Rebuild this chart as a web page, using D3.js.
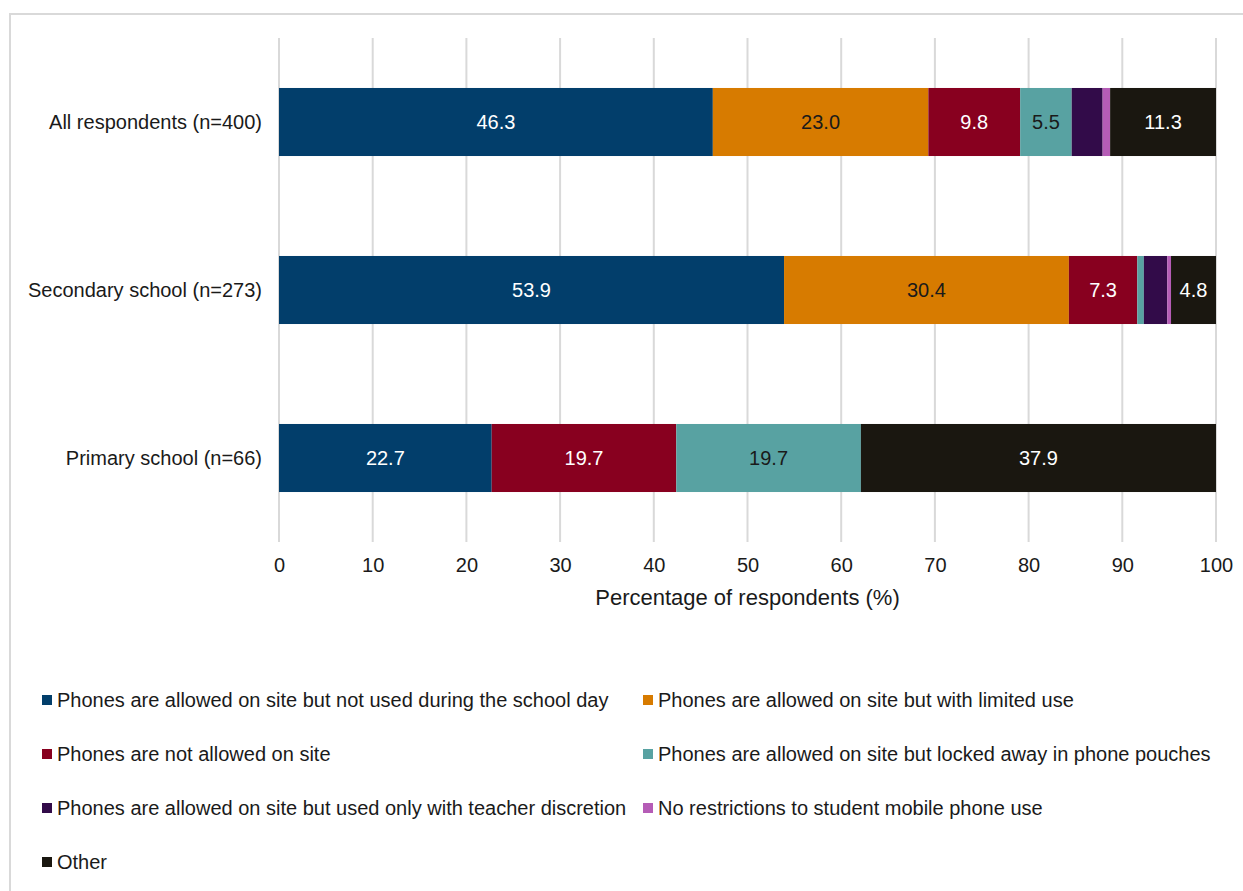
<!DOCTYPE html>
<html>
<head>
<meta charset="utf-8">
<script src="https://cdn.jsdelivr.net/npm/d3@7"></script>
<style>
  html, body { margin: 0; padding: 0; background: #fff; }
  svg { display: block; font-family: "Liberation Sans", Arial, sans-serif; }
</style>
</head>
<body>
<svg id="chart" width="1243" height="891"></svg>
<script>
// Respondent groups (top to bottom)
const categories = ["All respondents (n=400)", "Secondary school (n=273)", "Primary school (n=66)"];

// Policy types, in stacking order
const seriesNames = [
  "Phones are allowed on site but not used during the school day",
  "Phones are allowed on site but with limited use",
  "Phones are not allowed on site",
  "Phones are allowed on site but locked away in phone pouches",
  "Phones are allowed on site but used only with teacher discretion",
  "No restrictions to student mobile phone use",
  "Other"
];

// Percentages per series, one value per group
const notUsedDuringDay = [46.3, 53.9, 22.7];
const limitedUse       = [23.0, 30.4, 0];
const notAllowed       = [9.8, 7.3, 19.7];
const phonePouches     = [5.5, 0.7, 19.7];
const teacherDiscretion= [3.3, 2.5, 0];
const noRestrictions   = [0.8, 0.4, 0];
const other            = [11.3, 4.8, 37.9];

// Segments whose values are printed on the bar
const labelledValues = [
  [46.3, 23.0, 9.8, 5.5, null, null, 11.3],
  [53.9, 30.4, 7.3, null, null, null, 4.8],
  [22.7, null, 19.7, 19.7, null, null, 37.9]
];

const xTicks = [0, 10, 20, 30, 40, 50, 60, 70, 80, 90, 100];

const seriesValues = [notUsedDuringDay, limitedUse, notAllowed, phonePouches,
                      teacherDiscretion, noRestrictions, other];
const colors = ["#023e6b", "#d77b00", "#88001f", "#58a2a2", "#320b49", "#b55cb6", "#1a1710"];
const labelColors = ["#ffffff", "#1a1a1a", "#ffffff", "#1a1a1a", "#ffffff", "#ffffff", "#ffffff"];
const textColor = "#1a1a1a";

const rows = categories.map((c, i) => {
  const r = { category: c };
  seriesNames.forEach((s, j) => { r[s] = seriesValues[j][i]; });
  return r;
});

const svg = d3.select("#chart");

// Outer frame
svg.append("path")
  .attr("d", "M10,905 L10,14 L1250,14")
  .attr("fill", "none")
  .attr("stroke", "#d9d9d9")
  .attr("stroke-width", 2);

const plot = { left: 279, right: 1216, top: 38, bottom: 542 };

const x = d3.scaleLinear().domain([0, 100]).range([plot.left, plot.right]);
const y = d3.scaleBand().domain(categories).range([plot.top, plot.bottom]).paddingInner(0.595).paddingOuter(0.2975);

// Vertical gridlines
svg.append("g")
  .selectAll("line")
  .data(xTicks)
  .join("line")
  .attr("x1", d => x(d)).attr("x2", d => x(d))
  .attr("y1", plot.top).attr("y2", plot.bottom)
  .attr("stroke", "#d9d9d9")
  .attr("stroke-width", 2);

// Stacked bars
const stack = d3.stack().keys(seriesNames)(rows);

const layers = svg.append("g")
  .selectAll("g")
  .data(stack)
  .join("g")
  .attr("fill", (d, i) => colors[i]);

layers.selectAll("rect")
  .data(d => d)
  .join("rect")
  .attr("x", d => x(d[0]))
  .attr("y", d => y(d.data.category))
  .attr("width", d => Math.max(0, x(d[1]) - x(d[0])))
  .attr("height", y.bandwidth());

// Value labels
stack.forEach((layer, j) => {
  layer.forEach((d, i) => {
    const v = labelledValues[i][j];
    if (v === null) return;
    svg.append("text")
      .attr("x", (x(d[0]) + x(d[1])) / 2)
      .attr("y", y(d.data.category) + y.bandwidth() / 2)
      .attr("dy", "0.36em")
      .attr("text-anchor", "middle")
      .attr("font-size", 20)
      .attr("fill", labelColors[j])
      .text(v.toFixed(1));
  });
});

// Category labels
svg.append("g")
  .selectAll("text")
  .data(categories)
  .join("text")
  .attr("x", plot.left - 17)
  .attr("y", d => y(d) + y.bandwidth() / 2)
  .attr("dy", "0.36em")
  .attr("text-anchor", "end")
  .attr("font-size", 20)
  .attr("fill", textColor)
  .text(d => d);

// X axis tick labels
const xAxis = d3.axisBottom(x).tickValues(xTicks).tickSize(0).tickPadding(0).tickFormat(d3.format("d"));
const ax = svg.append("g").attr("transform", `translate(0,572)`).call(xAxis);
ax.select(".domain").remove();
ax.selectAll("text")
  .attr("font-size", 20)
  .attr("font-family", "Liberation Sans, Arial, sans-serif")
  .attr("fill", textColor)
  .attr("dy", 0);

// Axis title
svg.append("text")
  .attr("x", (plot.left + plot.right) / 2)
  .attr("y", 605)
  .attr("text-anchor", "middle")
  .attr("font-size", 22)
  .attr("fill", textColor)
  .text("Percentage of respondents (%)");

// Legend, two columns
const legendCols = [42, 643];
const legendRows = [700, 754, 808, 862];
const legend = svg.append("g")
  .selectAll("g")
  .data(seriesNames)
  .join("g")
  .attr("transform", (d, i) => `translate(${legendCols[i % 2]},${legendRows[Math.floor(i / 2)]})`);

legend.append("rect")
  .attr("x", 0).attr("y", -5)
  .attr("width", 10).attr("height", 10)
  .attr("fill", (d, i) => colors[i]);

legend.append("text")
  .attr("x", 15)
  .attr("y", 0)
  .attr("dy", "0.34em")
  .attr("font-size", 20)
  .attr("fill", textColor)
  .text(d => d);
</script>
</body>
</html>
